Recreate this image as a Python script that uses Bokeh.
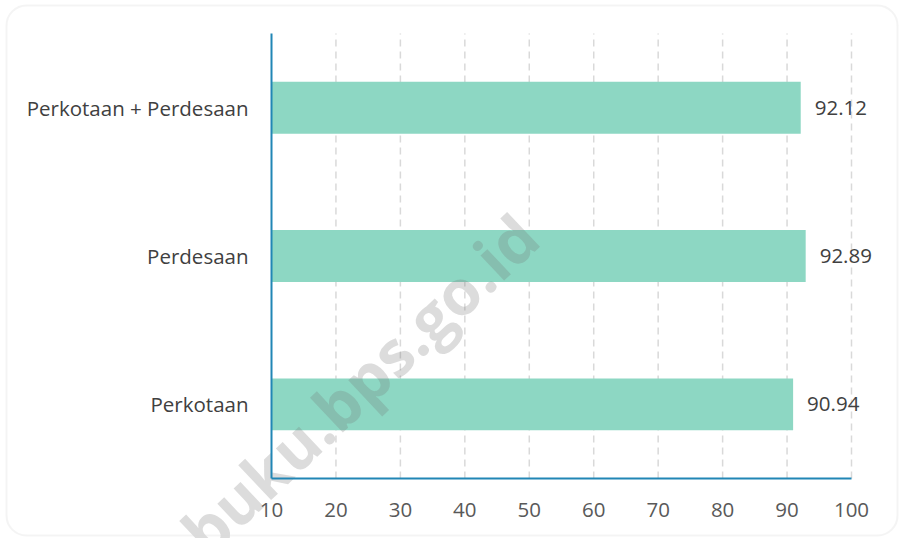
from bokeh.plotting import figure
from bokeh.models import ColumnDataSource, Range1d, BoxAnnotation
from bokeh.core.properties import value
from bokeh.embed import file_html
from bokeh.resources import INLINE

# Categories listed bottom to top
categories = ["Perkotaan", "Perdesaan", "Perkotaan + Perdesaan"]
values = [90.94, 92.89, 92.12]
value_labels = ["90.94", "92.89", "92.12"]
x_ticks = [10, 20, 30, 40, 50, 60, 70, 80, 90, 100]
tick_labels = ["10", "20", "30", "40", "50", "60", "70", "80", "90", "100"]

FONT = "Open Sans"
FONT_SIZE = "20.5px"
BAR_COLOR = "#8dd7c3"
AXIS_COLOR = "#2186b5"
GRID_COLOR = "#d9d9d9"

W, H = 903, 538
# plotting area inside the canvas (pixels)
PA_LEFT, PA_RIGHT, PA_TOP, PA_BOTTOM = 271, 851, 33, 478
X_MIN, X_MAX = 10, 100
N = len(categories)

# data ranges chosen so that the whole canvas is the frame and the
# value axis runs from X_MIN to X_MAX inside the plotting area
px_per_x = (PA_RIGHT - PA_LEFT) / (X_MAX - X_MIN)
px_per_y = (PA_BOTTOM - PA_TOP) / N
x_range = Range1d(X_MIN - PA_LEFT / px_per_x, X_MAX + (W - PA_RIGHT) / px_per_x)
y_range = Range1d(-(H - PA_BOTTOM) / px_per_y, N + PA_TOP / px_per_y)

ypos = [i + 0.5 for i in range(N)]
src = ColumnDataSource(dict(cat=categories, y=ypos, val=values, lbl=value_labels))

p = figure(width=W, height=H, x_range=x_range, y_range=y_range,
           output_backend="svg", toolbar_location=None,
           x_axis_location=None, y_axis_location=None, min_border=0)
p.outline_line_color = None
p.background_fill_color = "white"
p.border_fill_color = "white"
p.xgrid.visible = False
p.ygrid.visible = False

# dashed vertical gridlines
grid_x = x_ticks[1:]
p.segment(x0=grid_x, y0=[0] * len(grid_x), x1=grid_x, y1=[N] * len(grid_x),
          line_color=GRID_COLOR, line_width=1.5, line_dash="7 5")

# bars start at the axis minimum
p.hbar(y="y", left=X_MIN, right="val", height=0.35, source=src,
       fill_color=BAR_COLOR, line_color=None)

# site watermark, laid over the bars but under axes and labels
p.text(x=[23.6], y=[0.64], text=["buku.bps.go.id"], angle=43.3, angle_units="deg",
       text_align="center", text_baseline="middle",
       text_font=value("Open Sans"), text_font_style="bold", text_font_size="63px",
       text_color="#747474", text_alpha=0.25)

# axis lines
p.segment(x0=[X_MIN, X_MIN], y0=[0, 0], x1=[X_MAX, X_MIN], y1=[0, N],
          line_color=AXIS_COLOR, line_width=2)

# value labels
p.text(x="val", y="y", text="lbl", source=src, x_offset=14,
       text_baseline="middle", text_align="left",
       text_font=value(FONT), text_font_size=FONT_SIZE, text_color="#404040")

# category labels
p.text(x=X_MIN, y="y", text="cat", source=src, x_offset=-23,
       text_baseline="middle", text_align="right",
       text_font=value(FONT), text_font_size=FONT_SIZE, text_color="#404040")

# tick labels on the value axis
p.text(x=x_ticks, y=[0] * len(x_ticks), text=tick_labels, y_offset=31,
       text_baseline="middle", text_align="center",
       text_font=value(FONT), text_font_size=FONT_SIZE, text_color="#595959")

# rounded frame around the whole chart
frame = BoxAnnotation(left=6, right=897, top=5, bottom=535,
                      left_units="canvas", right_units="canvas",
                      top_units="canvas", bottom_units="canvas",
                      fill_color=None, fill_alpha=0, line_color="#d9d9d9",
                      line_width=2, border_radius=20)
p.add_layout(frame)

open("out.html", "w").write(file_html(p, INLINE))
